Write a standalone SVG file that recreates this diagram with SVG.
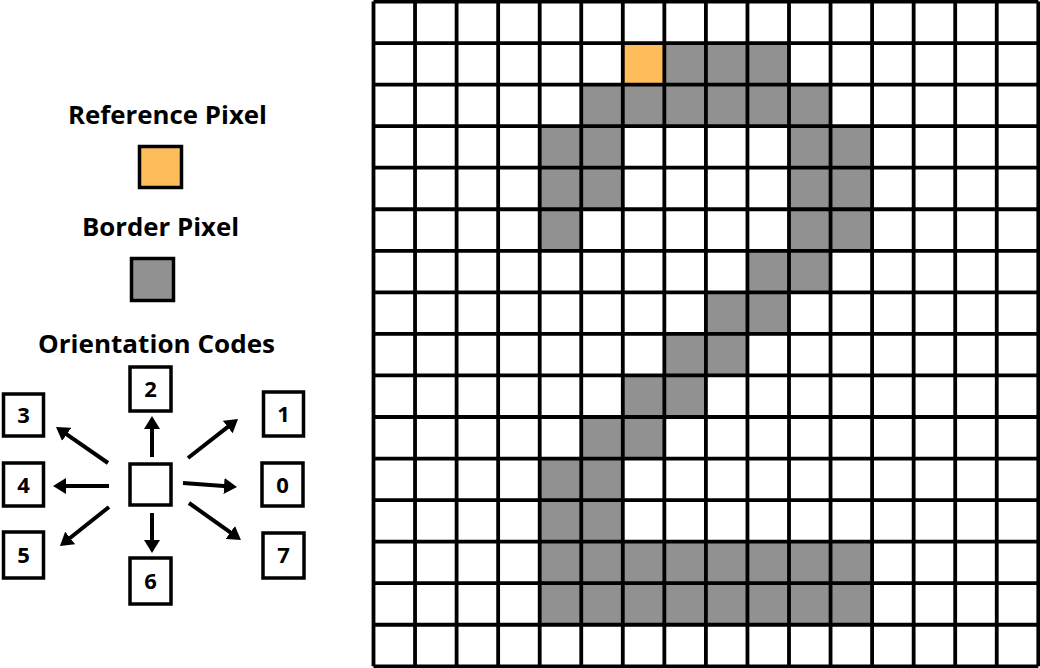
<svg xmlns="http://www.w3.org/2000/svg" width="1040" height="668" viewBox="0 0 1040 668">
<defs>
<style>
.t{font-family:"Open Sans","Liberation Sans",sans-serif;font-weight:700;fill:#000}
.h{font-size:25px;text-anchor:middle}
.n{font-size:22px;text-anchor:middle}
.box{fill:#fff;stroke:#000;stroke-width:3.5}
.g{fill:#919191}
.o{fill:#FFBC5A}
.ar{stroke:#000;stroke-width:4;fill:none;marker-end:url(#ah)}
</style>
<marker id="ah" markerUnits="userSpaceOnUse" markerWidth="16" markerHeight="16" refX="3" refY="8" orient="auto">
<path d="M0,0 L13,8 L0,16 z" fill="#000"/>
</marker>
</defs>
<rect x="0" y="0" width="1040" height="668" fill="#fff"/>

<g id="legend">
<text class="t h" x="167.5" y="124" textLength="199" lengthAdjust="spacingAndGlyphs">Reference Pixel</text>
<rect x="139.5" y="146.5" width="42" height="41" class="o" stroke="#000" stroke-width="3.5"/>
<text class="t h" x="160.5" y="236" textLength="157" lengthAdjust="spacingAndGlyphs">Border Pixel</text>
<rect x="131.5" y="258.5" width="42" height="42" class="g" stroke="#000" stroke-width="3.5"/>
<text class="t h" x="156.5" y="352.5" textLength="237" lengthAdjust="spacingAndGlyphs">Orientation Codes</text>
</g>

<g id="node-center"><rect class="box" x="130" y="464" width="41" height="41"/></g>
<g id="node-2"><rect class="box" x="130" y="367" width="41" height="44"/><text class="t n" x="150.5" y="397">2</text></g>
<g id="node-3"><rect class="box" x="3.5" y="394" width="40" height="42"/><text class="t n" x="23.5" y="423">3</text></g>
<g id="node-1"><rect class="box" x="263.5" y="392" width="40" height="44"/><text class="t n" x="283.5" y="422">1</text></g>
<g id="node-4"><rect class="box" x="3.5" y="463" width="40" height="43"/><text class="t n" x="23.5" y="492.5">4</text></g>
<g id="node-0"><rect class="box" x="262" y="463" width="41" height="43"/><text class="t n" x="282.5" y="492.5">0</text></g>
<g id="node-5"><rect class="box" x="3.5" y="532" width="40" height="46"/><text class="t n" x="23.5" y="563">5</text></g>
<g id="node-7"><rect class="box" x="263" y="533" width="41" height="45"/><text class="t n" x="283.5" y="563">7</text></g>
<g id="node-6"><rect class="box" x="130" y="558" width="41" height="46"/><text class="t n" x="150.5" y="589">6</text></g>

<g id="connectors">
<line class="ar" x1="152" y1="457" x2="152" y2="426"/>
<line class="ar" x1="108" y1="463" x2="64.2" y2="432.7"/>
<line class="ar" x1="188" y1="458" x2="230.1" y2="425.2"/>
<line class="ar" x1="109" y1="486" x2="63" y2="486"/>
<line class="ar" x1="183" y1="483" x2="227" y2="486.3"/>
<line class="ar" x1="109" y1="507" x2="67.8" y2="539.8"/>
<line class="ar" x1="152" y1="513" x2="152" y2="543"/>
<line class="ar" x1="189" y1="503" x2="232.8" y2="534.2"/>
</g>

<g id="grid">
<rect class="o" x="622.8" y="43.05" width="41.55" height="41.55"/>
<rect class="g" x="664.35" y="43.05" width="124.65" height="41.55"/>
<rect class="g" x="581.25" y="84.6" width="249.3" height="41.55"/>
<rect class="g" x="539.7" y="126.15" width="83.1" height="83.1"/>
<rect class="g" x="789" y="126.15" width="83.1" height="124.65"/>
<rect class="g" x="539.7" y="209.25" width="41.55" height="41.55"/>
<rect class="g" x="747.45" y="250.8" width="83.1" height="41.55"/>
<rect class="g" x="705.9" y="292.35" width="83.1" height="41.55"/>
<rect class="g" x="664.35" y="333.9" width="83.1" height="41.55"/>
<rect class="g" x="622.8" y="375.45" width="83.1" height="41.55"/>
<rect class="g" x="581.25" y="417" width="83.1" height="41.55"/>
<rect class="g" x="539.7" y="458.55" width="83.1" height="83.1"/>
<rect class="g" x="539.7" y="541.65" width="332.4" height="83.1"/>
<path fill="none" stroke="#000" stroke-width="3.8" d="M373.5 1.5V666.3M415.05 1.5V666.3M456.6 1.5V666.3M498.15 1.5V666.3M539.7 1.5V666.3M581.25 1.5V666.3M622.8 1.5V666.3M664.35 1.5V666.3M705.9 1.5V666.3M747.45 1.5V666.3M789 1.5V666.3M830.55 1.5V666.3M872.1 1.5V666.3M913.65 1.5V666.3M955.2 1.5V666.3M996.75 1.5V666.3M1038.3 1.5V666.3M373.5 1.5H1038.3M373.5 43.05H1038.3M373.5 84.6H1038.3M373.5 126.15H1038.3M373.5 167.7H1038.3M373.5 209.25H1038.3M373.5 250.8H1038.3M373.5 292.35H1038.3M373.5 333.9H1038.3M373.5 375.45H1038.3M373.5 417H1038.3M373.5 458.55H1038.3M373.5 500.1H1038.3M373.5 541.65H1038.3M373.5 583.2H1038.3M373.5 624.75H1038.3M373.5 666.3H1038.3"/>
</g>
</svg>
